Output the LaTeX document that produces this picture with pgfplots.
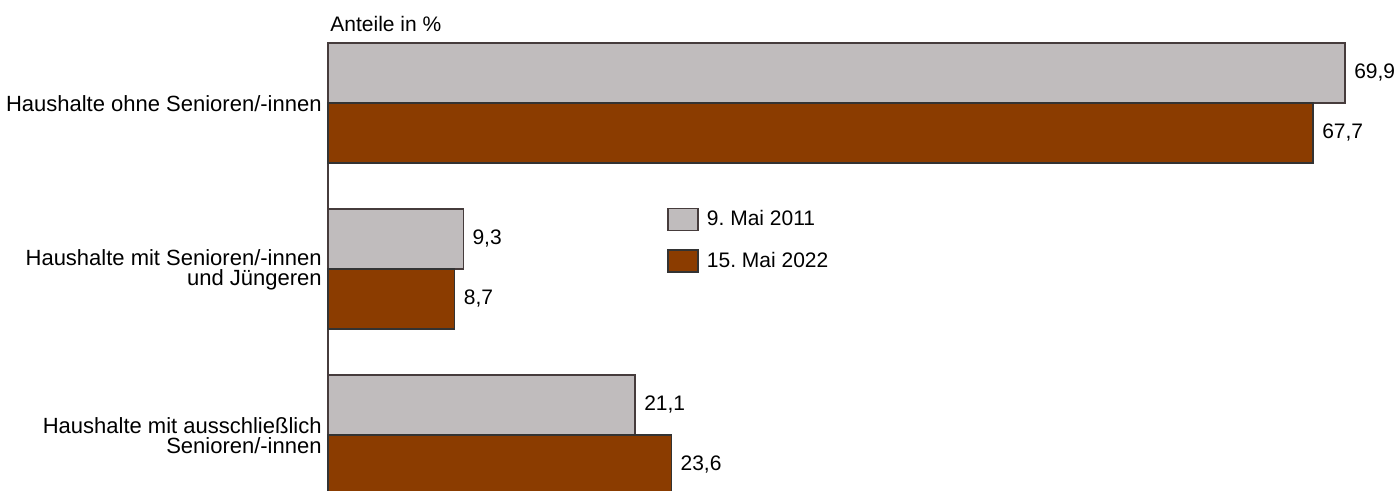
\documentclass[border=0pt]{standalone}
\usepackage{pgfplots}
\pgfplotsset{compat=1.18}
\usepackage{fontspec}
\setmainfont{Liberation Sans}
\frenchspacing
\definecolor{grayc}{RGB}{192,188,189}
\definecolor{brownc}{RGB}{139,60,0}
\definecolor{edgec}{RGB}{70,60,60}
\begin{document}
\begin{tikzpicture}
\path[use as bounding box, clip] (0,0) rectangle (699.5pt,-245.5pt);
\node[anchor=west, inner sep=0pt, font=\fontsize{10.5pt}{12pt}\selectfont] at (165pt,-12pt) {Anteile in \%};
\begin{axis}[
  at={(164pt,-21.5pt)}, anchor=north west,
  scale only axis,
  width=508.5pt, height=233.35pt,
  xmin=0, xmax=69.9,
  ymin=-2.45, ymax=0.3614,
  xbar, bar width=30pt,
  axis x line=none,
  axis y line*=left,
  axis line style={edgec, line width=0.6pt},
  ytick={0,-1,-2},
  yticklabels={{Haushalte ohne Senioren/-innen},{Haushalte mit Senioren/-innen\\und Jüngeren},{Haushalte mit ausschließlich\\Senioren/-innen}},
  yticklabel style={align=right, font=\fontsize{11pt}{10pt}\selectfont, inner sep=0pt, xshift=-3pt, yshift=-0.5pt},
  major tick length=0pt,
  clip=false,
  nodes near coords,
  nodes near coords style={font=\fontsize{10.5pt}{12pt}\selectfont, xshift=1pt, /pgf/number format/assume math mode=true, /pgf/number format/fixed, /pgf/number format/fixed zerofill, /pgf/number format/precision=1, /pgf/number format/use comma},
  legend style={draw=none, fill=none, at={(0.3333,0.650)}, anchor=north west, font=\fontsize{10.5pt}{12pt}\selectfont, row sep=7.5pt, inner sep=0pt, cells={anchor=west}, /tikz/every odd column/.style={column sep=2.2pt}},
  legend image code/.code={\draw[#1, line width=0.6pt] (0pt,-5.5pt) rectangle (15pt,5.5pt);},
]
\addplot[fill=grayc, draw=edgec, line width=0.6pt, bar shift=15pt] coordinates {(69.9,0) (9.3,-1) (21.1,-2)};
\addplot[fill=brownc, draw=black!80, line width=0.6pt, bar shift=-15pt] coordinates {(67.7,0) (8.7,-1) (23.6,-2)};
\legend{9. Mai 2011, 15. Mai 2022}
\end{axis}
\end{tikzpicture}
\end{document}
